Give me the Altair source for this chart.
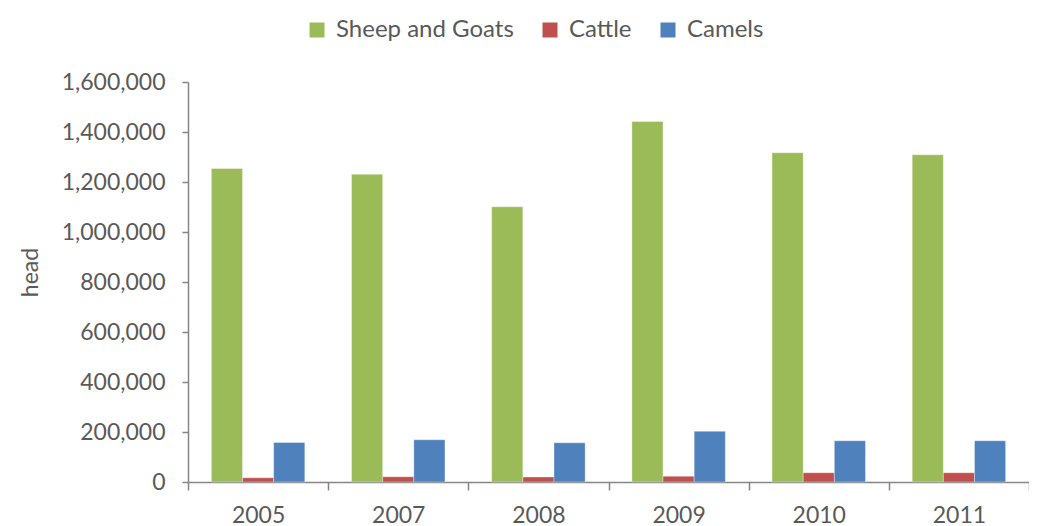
import altair as alt
import pandas as pd

years = ["2005", "2007", "2008", "2009", "2010", "2011"]
series = ["Sheep and Goats", "Cattle", "Camels"]
sheep_goats = [1254000, 1231000, 1101000, 1442000, 1317000, 1309000]
cattle = [17000, 21000, 20000, 23000, 37000, 37000]
camels = [158000, 169000, 157000, 203000, 165000, 165000]
colors = ["#9BBB59", "#C0504D", "#4F81BD"]

rows = []
for name, vals in zip(series, [sheep_goats, cattle, camels]):
    for y, v in zip(years, vals):
        rows.append({"year": y, "series": name, "value": v})
df = pd.DataFrame(rows)

FONT = "Lato"
AX = "#868686"
TX = "#595959"

chart = alt.Chart(df).mark_bar(stroke="white", strokeWidth=0.6, strokeOpacity=0.6).encode(
    x=alt.X("year:N", sort=years,
            scale=alt.Scale(paddingInner=0, paddingOuter=0),
            axis=alt.Axis(title=None, labelAngle=0, tickBand="extent",
                          labelFont=FONT, labelFontSize=23, labelColor=TX,
                          labelPadding=14, tickSize=8, tickColor=AX, domainColor=AX,
                          tickWidth=1.5, domainWidth=1.5, grid=False)),
    xOffset=alt.XOffset("series:N", sort=series,
                        scale=alt.Scale(paddingInner=0, paddingOuter=0.75)),
    y=alt.Y("value:Q", scale=alt.Scale(domain=[0, 1600000], nice=False),
            axis=alt.Axis(title="head", values=list(range(0, 1600001, 200000)),
                          format=",d", labelFont=FONT, labelFontSize=23, labelColor=TX,
                          labelPadding=17, tickSize=6, tickColor=AX, domainColor=AX,
                          tickWidth=1.5, domainWidth=1.5, grid=False,
                          titleFont=FONT, titleFontSize=23, titleColor=TX,
                          titleFontWeight="normal", titleAngle=-90,
                          titleX=-158, titleY=190, titleAlign="center",
                          titleBaseline="middle")),
    color=alt.Color("series:N", sort=series,
                    scale=alt.Scale(domain=series, range=colors),
                    legend=alt.Legend(title=None, orient="none", direction="horizontal",
                                      legendX=117, legendY=-64,
                                      symbolType="square", symbolSize=225,
                                      symbolStrokeWidth=0, labelFont=FONT,
                                      labelFontSize=24, labelColor=TX, labelLimit=0,
                                      labelOffset=7, columnPadding=24, padding=0)),
).properties(
    width=841, height=400,
    autosize=alt.AutoSizeParams(type="none"),
    padding={"left": 180, "top": 74, "right": 0, "bottom": 44},
).configure_view(stroke=None)

chart.save("out.html", embed_options={"renderer": "svg", "actions": False})
